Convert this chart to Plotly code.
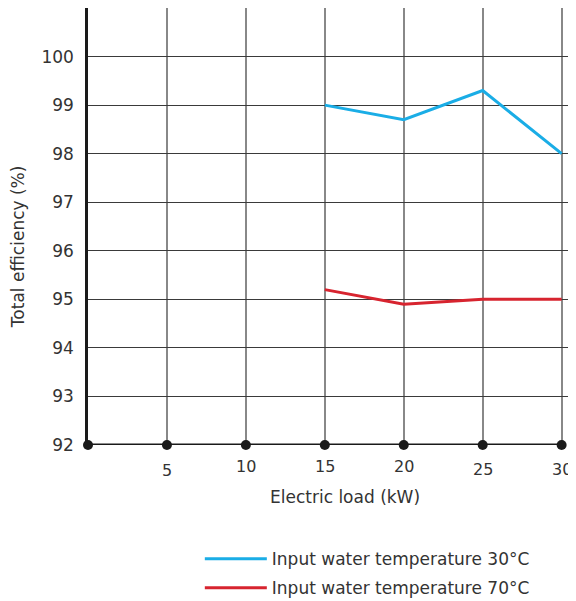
import plotly.graph_objects as go

# Data
loads = [15, 20, 25, 30]
eff_30c = [99.0, 98.7, 99.3, 98.0]
eff_70c = [95.2, 94.9, 95.0, 95.0]
x_ticks = [0, 5, 10, 15, 20, 25, 30]
x_tick_labels = ["", "5", "10", "15", "20", "25", "30"]
x_tick_shift = [0, -25, -21, -21, -21, -24, -24]
y_ticks = [92, 93, 94, 95, 96, 97, 98, 99, 100]
series_names = ["Input water temperature 30°C", "Input water temperature 70°C"]
x_title = "Electric load (kW)"
y_title = "Total efficiency (%)"

FONT = "DejaVu Sans"
TXT = "#333333"
BLUE = "#1aade6"
RED = "#d7242f"

fig = go.Figure()

fig.add_trace(go.Scatter(x=loads, y=eff_30c, mode="lines", name=series_names[0],
                         legendgroup="a", line=dict(color=BLUE, width=3)))
fig.add_trace(go.Scatter(x=loads, y=eff_70c, mode="lines", name=series_names[1],
                         legendgroup="b", line=dict(color=RED, width=3)))

# bottom axis with dots
fig.add_trace(go.Scatter(x=x_ticks, y=[y_ticks[0]] * len(x_ticks), mode="lines+markers",
                         line=dict(color="#1a1a1a", width=3),
                         marker=dict(color="#1a1a1a", size=10),
                         showlegend=False, cliponaxis=False, hoverinfo="skip"))

for xv, lab, sh in zip(x_ticks, x_tick_labels, x_tick_shift):
    if lab:
        fig.add_annotation(x=xv, y=y_ticks[0], xref="x", yref="y", text=lab,
                           showarrow=False, yshift=sh, yanchor="middle",
                           font=dict(family=FONT, size=16, color=TXT))

# axis titles
fig.add_annotation(x=0.533, y=-0.119, xref="paper", yref="paper", text=x_title,
                   showarrow=False, xanchor="center", yanchor="middle",
                   font=dict(family=FONT, size=17, color=TXT))
fig.add_annotation(x=-0.145, y=0.453, xref="paper", yref="paper", text=y_title,
                   showarrow=False, xanchor="center", yanchor="middle", textangle=-90,
                   font=dict(family=FONT, size=17, color=TXT))

fig.update_layout(
    width=568, height=593,
    margin=dict(l=80, r=6, t=0, b=156, autoexpand=False),
    paper_bgcolor="white", plot_bgcolor="white",
    font=dict(family=FONT, color=TXT),
    xaxis=dict(range=[0, 30.53], tickvals=x_ticks[1:], showticklabels=False,
               showgrid=True, gridcolor="#888888", gridwidth=1.5, automargin=False,
               zeroline=False, showline=False, ticks=""),
    yaxis=dict(range=[92, 101], tickvals=y_ticks, ticktext=[str(v) for v in y_ticks],
               showgrid=True, gridcolor="#3a3a3a", gridwidth=1, automargin=False,
               zeroline=False, showline=True, linecolor="#1a1a1a", linewidth=2.5,
               ticks="", ticklabelstandoff=8,
               tickfont=dict(family=FONT, size=17, color=TXT)),
    legend=dict(x=0.232, y=-0.22, xanchor="left", yanchor="top",
                font=dict(family=FONT, size=17, color=TXT),
                itemwidth=62, tracegroupgap=4, bgcolor="rgba(0,0,0,0)"),
)

fig.write_html("out.html")
